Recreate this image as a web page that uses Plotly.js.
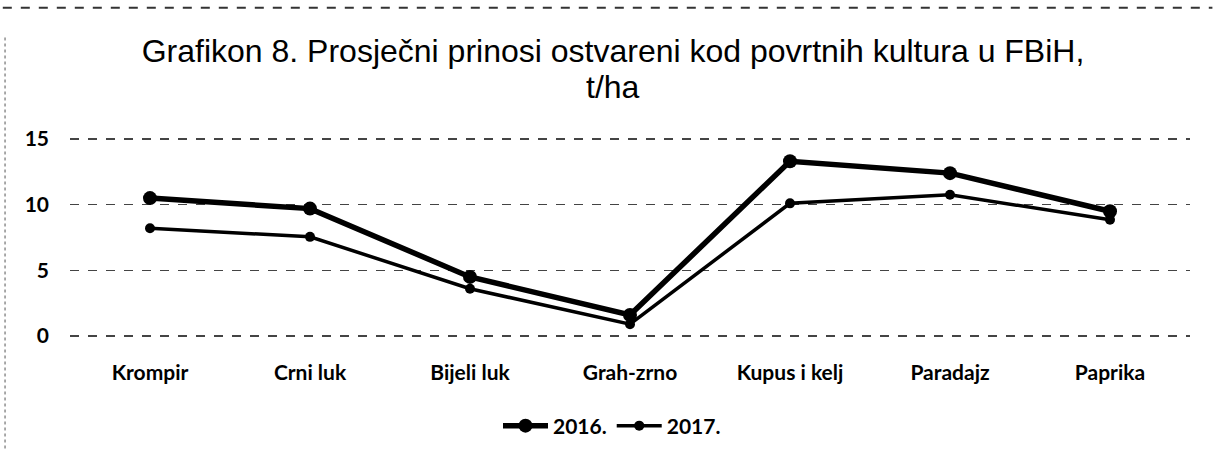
<!DOCTYPE html>
<html>
<head>
<meta charset="utf-8">
<script src="https://cdn.plot.ly/plotly-3.0.1.min.js"></script>
<style>html,body{margin:0;padding:0;background:#fff;}#chart{width:1213px;height:457px;}</style>
</head>
<body>
<div id="chart"></div>
<script>
const categories = ["Krompir", "Crni luk", "Bijeli luk", "Grah-zrno", "Kupus i kelj", "Paradajz", "Paprika"];
const values2016 = [10.5, 9.7, 4.5, 1.6, 13.3, 12.4, 9.5];
const values2017 = [8.2, 7.55, 3.6, 0.9, 10.1, 10.75, 8.85];
const seriesNames = ["2016.", "2017."];
const yTicks = [0, 5, 10, 15];
const titleLine1 = "Grafikon 8. Prosječni prinosi ostvareni kod povrtnih kultura u FBiH,";
const titleLine2 = "t/ha";

const traces = [
  {x: categories, y: values2016, name: seriesNames[0], type: "scatter", mode: "lines+markers",
   line: {color: "#000", width: 5.5}, marker: {color: "#000", size: 14}},
  {x: categories, y: values2017, name: seriesNames[1], type: "scatter", mode: "lines+markers",
   line: {color: "#000", width: 3.5}, marker: {color: "#000", size: 10}}
];

const tickFont = {family: "Lato, 'Open Sans', sans-serif", size: 21, color: "#000", weight: "bold"};
const titleFont = {family: "'Liberation Sans', Arial, sans-serif", size: 32, color: "#000"};

const layout = {
  width: 1213, height: 457,
  paper_bgcolor: "#fff", plot_bgcolor: "#fff",
  margin: {l: 70, r: 23, t: 137, b: 118},
  title: {
    text: titleLine1, font: titleFont,
    x: 613 / 1213, xanchor: "center", yref: "container", y: 1 - 51 / 457, yanchor: "middle"
  },
  annotations: [
    {text: titleLine2, font: titleFont, showarrow: false, xref: "paper", yref: "paper",
     x: (613 - 70) / 1120, xanchor: "center", y: (339 - 87) / 202, yanchor: "middle"}
  ],
  xaxis: {
    type: "category", range: [-0.5, 6.5], tickfont: tickFont, showgrid: false, zeroline: false, showline: false,
    ticks: "", automargin: false, ticklabelstandoff: 20
  },
  yaxis: {
    range: [-0.15, 15.15], tickvals: yTicks, ticktext: yTicks.map(String), tickfont: tickFont,
    showgrid: true, gridcolor: "#444", griddash: "dash", gridwidth: 1.2,
    zeroline: false, showline: false, ticks: "", ticklabelstandoff: 20, automargin: false
  },
  showlegend: true,
  legend: {
    orientation: "h", x: (612 - 70) / 1120, xanchor: "center", y: (339 - 426) / 202, yanchor: "middle",
    font: tickFont, itemwidth: 45, traceorder: "normal"
  },
  shapes: [
    {type: "line", xref: "paper", yref: "paper", x0: -0.06, x1: 1.02, y0: 1.0 + 130/202, y1: 1.0 + 130/202,
     line: {color: "#333", width: 2, dash: "dash"}},
    {type: "line", xref: "paper", yref: "paper", x0: -0.058, x1: -0.058, y0: 1.0 + 100/202, y1: -0.55,
     line: {color: "#555", width: 1, dash: "dot"}}
  ]
};

Plotly.newPlot("chart", traces, layout, {displayModeBar: false, staticPlot: true});
</script>
</body>
</html>
